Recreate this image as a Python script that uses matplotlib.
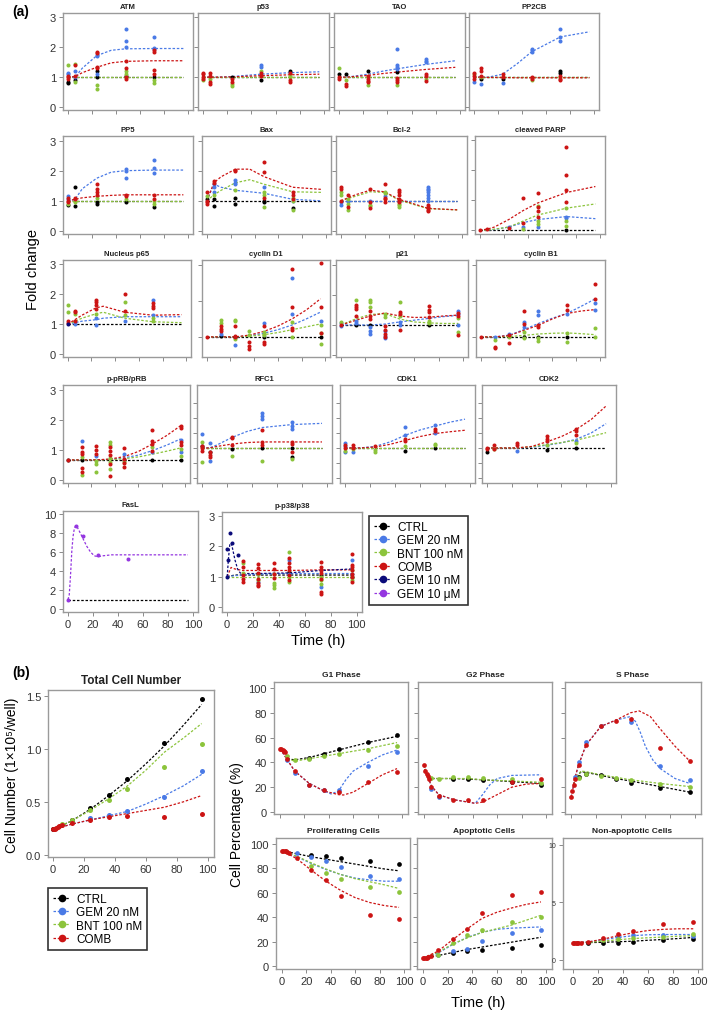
import matplotlib
matplotlib.use("Agg")
import matplotlib.pyplot as plt
from matplotlib.lines import Line2D

plt.rcParams["font.family"] = ["Liberation Sans", "DejaVu Sans"]

W, H = 709, 1012
COL = {"CTRL": "#000000", "GEM20": "#4a7ae6", "BNT": "#8cc43c", "COMB": "#cc1414",
       "GEM10n": "#0b0b7a", "GEM10u": "#9436e0"}
LABEL = {"CTRL": "CTRL", "GEM20": "GEM 20 nM", "BNT": "BNT 100 nM", "COMB": "COMB",
         "GEM10n": "GEM 10 nM", "GEM10u": "GEM 10 μM"}
DASH = (0, (2.0, 1.4))

# ---------------- (a) fold change data: {group: {time: [values]}} ----------------
T8 = [0, 6, 12, 24, 36, 48, 72, 96]
T9 = [0, 12, 24, 36, 48, 60, 72, 84, 96]

ATM_PTS = {
    "CTRL": {0: [0.85, 0.8], 6: [0.9], 24: [1.2, 1.0], 48: [1.05], 72: [1.0]},
    "GEM20": {0: [1.15, 1.1], 6: [1.2, 1.0], 24: [1.75, 1.7, 1.1], 48: [2.62, 2.22, 2.0], 72: [2.35, 1.98, 1.93]},
    "BNT": {0: [1.4], 6: [1.45, 0.85], 24: [0.75, 0.6], 48: [1.2, 1.1], 72: [0.9, 0.8]},
    "COMB": {0: [1.05, 1.0, 0.95], 6: [1.4, 1.05], 24: [1.85, 1.8, 1.35, 1.3], 48: [1.55, 1.3, 1.0, 0.95], 72: [1.9, 1.85, 1.25, 1.1]},
}
ATM_FIT = {"CTRL": [1, 1, 1, 1, 1, 1, 1, 1], "GEM20": [1.0, 1.0, 1.3, 1.72, 1.9, 1.95, 1.96, 1.96],
           "BNT": [1, 1, 1, 1, 1, 1, 1, 1], "COMB": [1.0, 1.02, 1.15, 1.33, 1.48, 1.53, 1.55, 1.55]}

P53_PTS = {
    "CTRL": {24: [1.0], 48: [0.9], 72: [1.2]},
    "GEM20": {48: [1.42, 1.35]},
    "BNT": {0: [0.9], 6: [0.95], 24: [0.78, 0.72], 48: [1.2], 72: [1.05, 1.0]},
    "COMB": {0: [1.15, 1.1, 1.0, 0.95], 6: [1.15, 1.05, 0.85, 0.78], 24: [0.95, 0.85], 48: [1.15, 1.05], 72: [1.15, 0.9, 0.85]},
}
P53_FIT = {"CTRL": [1, 1, 1, 1, 1, 1, 1, 1], "GEM20": [1, 1, 1, 1.02, 1.06, 1.1, 1.15, 1.18],
           "BNT": [1, 1, 1, 1, 1, 1, 1, 1], "COMB": [1, 1, 1, 1.01, 1.03, 1.05, 1.08, 1.1]}

TAO_PTS = {
    "CTRL": {0: [1.1], 6: [1.1], 24: [1.19], 48: [1.18]},
    "GEM20": {48: [1.94, 1.4, 1.35, 1.28], 72: [1.6, 1.55, 1.5]},
    "BNT": {0: [1.3], 6: [0.9], 24: [0.75], 48: [0.75], 72: [0.95]},
    "COMB": {0: [1.0, 0.95], 6: [0.78, 0.72], 24: [1.05, 0.95, 0.88, 0.85], 48: [0.98, 0.92, 0.85], 72: [1.1, 1.05, 0.88]},
}
TAO_FIT = {"CTRL": [1, 1, 1, 1, 1, 1, 1, 1], "GEM20": [1, 1, 1.03, 1.1, 1.2, 1.28, 1.43, 1.55],
           "BNT": [1, 1, 1, 1, 1, 1, 1, 1], "COMB": [1, 1, 1.02, 1.06, 1.12, 1.17, 1.26, 1.33]}

PP2CB_PTS = {
    "CTRL": {6: [0.95], 24: [0.95], 72: [1.2, 1.15]},
    "GEM20": {0: [0.83], 6: [0.77], 24: [0.82], 48: [1.95, 1.9, 1.85], 72: [2.6, 2.35, 2.2]},
    "BNT": {0: [1.1], 6: [1.0], 48: [0.9], 72: [1.0]},
    "COMB": {0: [1.15, 1.05, 0.95], 6: [1.3, 1.2, 1.05], 24: [1.1, 1.0], 48: [1.0, 0.95], 72: [1.05, 0.95, 0.9]},
}
PP2CB_FIT = {"CTRL": [1, 1, 1, 1, 1, 1, 1, 1], "GEM20": [1, 1, 1.0, 1.1, 1.45, 1.85, 2.35, 2.52],
             "BNT": [1, 1, 1, 1, 1, 1, 1, 1], "COMB": [1, 1, 0.99, 0.99, 0.98, 0.98, 0.98, 0.98]}

PP5_PTS = {
    "CTRL": {0: [0.85], 6: [1.45, 0.82], 24: [0.95, 0.9], 48: [0.95], 72: [0.78]},
    "GEM20": {0: [1.15, 1.05], 48: [2.05, 2.0, 1.75], 72: [2.35, 2.1, 1.92]},
    "BNT": {0: [0.9], 6: [0.95], 24: [1.1], 48: [1.05], 72: [1.0, 0.9]},
    "COMB": {0: [1.1, 1.0, 0.95], 6: [1.1, 1.05], 24: [1.55, 1.4, 1.3, 1.2], 48: [1.2, 1.15], 72: [1.2, 1.05]},
}
PP5_FIT = {"CTRL": [1, 1, 1, 1, 1, 1, 1, 1], "GEM20": [1, 1.05, 1.4, 1.75, 1.95, 2.0, 2.02, 2.02],
           "BNT": [1, 1, 1, 1, 1, 1, 1, 1], "COMB": [1, 1.05, 1.1, 1.15, 1.18, 1.2, 1.2, 1.2]}

BAX_PTS = {
    "CTRL": {0: [1.05], 6: [1.05, 0.82], 24: [1.1, 0.9], 48: [1.0, 0.95], 72: [0.75]},
    "GEM20": {6: [1.55, 1.45, 1.3], 24: [1.7, 1.6, 1.55], 48: [1.45], 72: [1.0]},
    "BNT": {0: [1.15], 6: [1.2], 24: [1.35], 48: [1.3, 1.2, 0.8], 72: [1.1, 1.0, 0.7]},
    "COMB": {0: [1.3, 1.0, 0.95, 0.9], 6: [1.65, 1.6], 24: [2.02, 2.0], 48: [2.3, 1.95, 1.1], 72: [1.3, 1.2, 1.05]},
}
BAX_FIT = {"CTRL": [1, 1, 1, 1, 1, 1, 1, 1], "GEM20": [1.0, 1.55, 1.45, 1.35, 1.3, 1.25, 1.05, 1.0],
           "BNT": [1.0, 1.2, 1.35, 1.6, 1.7, 1.55, 1.3, 1.28], "COMB": [1.0, 1.6, 1.8, 2.05, 2.05, 1.8, 1.45, 1.38]}

BCL2_PTS = {
    "GEM20": {0: [0.95, 0.85], 6: [1.0], 24: [1.0], 36: [1.15], 72: [1.45, 1.4, 1.35, 1.3, 1.2, 1.1, 1.0]},
    "BNT": {0: [1.3, 1.2], 6: [1.05, 0.9, 0.7], 24: [0.85, 0.82], 36: [1.3, 1.25], 48: [0.9, 0.85, 0.8]},
    "COMB": {0: [1.45, 1.4, 1.0], 6: [1.2, 0.8], 24: [1.38, 0.95, 0.75], 36: [1.57, 1.1, 1.05, 0.95],
             48: [1.35, 1.3, 1.2, 1.05, 1.0, 0.95], 72: [0.85, 0.8, 0.75, 0.7, 0.65]},
}
BCL2_FIT = {"CTRL": [1, 1, 1, 1, 1, 1, 1, 1], "GEM20": [1, 1, 1, 1, 1, 1, 1, 1],
            "BNT": [1.0, 1.08, 1.15, 1.3, 1.28, 1.02, 0.74, 0.7], "COMB": [1.0, 1.1, 1.2, 1.35, 1.3, 1.05, 0.75, 0.7]}

PARP_PTS = {
    "CTRL": {72: [1.0]},
    "GEM20": {24: [1.1], 36: [1.1], 48: [1.1], 72: [1.45, 1.4]},
    "BNT": {36: [1.05], 48: [1.8, 1.3, 1.2], 72: [1.73, 1.3, 1.15]},
    "COMB": {0: [1.0], 6: [1.05], 24: [1.07], 36: [2.07, 1.23], 48: [2.23, 1.77, 1.65, 1.45], 72: [3.77, 2.83, 2.33, 1.93]},
}
PARP_FIT = {"CTRL": [1, 1, 1, 1, 1, 1, 1, 1], "GEM20": [1, 1, 1.02, 1.1, 1.25, 1.35, 1.45, 1.38],
            "BNT": [1, 1, 1.03, 1.1, 1.3, 1.5, 1.73, 1.87], "COMB": [1.0, 1.03, 1.1, 1.35, 1.65, 1.9, 2.25, 2.45]}

P65_T = [0, 6, 12, 24, 30, 48, 72, 96]
P65_PTS = {
    "GEM20": {6: [1.0], 24: [1.2, 0.97], 48: [1.1], 72: [1.8, 1.3]},
    "BNT": {0: [1.65, 1.4], 6: [1.35], 24: [1.35], 48: [1.75, 1.3], 72: [1.2, 1.1]},
    "COMB": {0: [1.1, 1.05], 6: [1.45, 1.4, 1.1], 24: [1.8, 1.75, 1.65, 1.5], 48: [2.0, 1.45], 72: [1.7, 1.6, 1.55]},
    "GEM10n": {0: [1.0]},
}
P65_FIT = {"CTRL": [1, 1, 1, 1, 1, 1, 1, 1], "GEM20": [1.0, 1.05, 1.1, 1.15, 1.2, 1.25, 1.25, 1.25],
           "BNT": [1.0, 1.1, 1.2, 1.35, 1.4, 1.2, 1.08, 1.05], "COMB": [1.0, 1.15, 1.3, 1.55, 1.6, 1.4, 1.3, 1.32]}

CYCD1_PTS = {
    "CTRL": {12: [1.02], 24: [1.0], 48: [1.0], 96: [1.0]},
    "GEM20": {12: [1.08], 24: [0.78], 48: [1.38], 72: [2.63, 1.64], 96: [1.44]},
    "BNT": {12: [1.48, 1.39], 24: [1.48, 1.45, 0.95], 36: [1.15, 1.05], 48: [1.13, 1.05], 72: [1.41, 1.0], 96: [1.33, 1.1, 0.8]},
    "COMB": {0: [1.0], 12: [1.3, 1.22, 1.15], 24: [1.3, 1.03, 0.99], 36: [0.85, 0.76, 0.67], 48: [1.29, 0.87, 0.79],
             72: [2.9, 1.84, 1.24, 1.2], 96: [3.06, 1.82, 1.1]},
}
CYCD1_FIT = {"CTRL": [1, 1, 1, 1, 1, 1, 1, 1, 1], "GEM20": [1, 1, 1, 1.03, 1.1, 1.2, 1.33, 1.5, 1.69],
             "BNT": [1, 1, 1, 1.02, 1.06, 1.12, 1.2, 1.28, 1.36], "COMB": [1, 1, 1, 1.05, 1.15, 1.3, 1.5, 1.75, 2.06]}

P21_PTS = {
    "CTRL": {12: [1.0], 24: [1.0], 72: [1.0]},
    "GEM20": {0: [1.05, 0.95], 12: [1.14, 1.07], 24: [0.92, 0.81, 0.7], 36: [0.81, 0.64, 0.57], 48: [1.11, 1.0], 96: [1.46, 1.37, 1.0]},
    "BNT": {0: [1.1], 12: [1.84], 24: [1.84, 1.76, 1.59], 36: [1.37, 1.26], 48: [1.78, 1.29], 72: [1.14, 1.07], 96: [1.22, 0.78]},
    "COMB": {0: [1.0], 12: [1.67, 1.59, 1.53, 1.29], 24: [1.46, 1.29, 1.2], 36: [0.98, 0.84, 0.7, 0.59], 48: [1.44, 1.37, 0.83],
             72: [1.64, 1.51, 1.42, 1.26], 96: [1.4, 1.31, 0.67]},
}
P21_FIT = {"CTRL": [1, 1, 1, 1, 1, 1, 1, 1, 1], "GEM20": [1.0, 1.0, 1.0, 1.03, 1.1, 1.16, 1.22, 1.28, 1.32],
           "BNT": [1.0, 1.2, 1.35, 1.38, 1.2, 1.1, 1.07, 1.05, 1.05], "COMB": [1.0, 1.15, 1.3, 1.4, 1.3, 1.25, 1.26, 1.3, 1.33]}

CYCB1_PTS = {
    "CTRL": {36: [1.0], 48: [1.0], 72: [1.0]},
    "GEM20": {12: [1.0], 24: [1.09], 36: [1.42, 1.28], 48: [1.71, 1.6], 72: [1.65], 96: [1.94, 1.76]},
    "BNT": {12: [0.91], 24: [1.0], 36: [1.14, 0.97], 48: [0.97, 0.88], 72: [1.11, 0.86], 96: [1.25, 1.0]},
    "COMB": {0: [1.0], 12: [0.72, 0.68], 24: [1.05, 0.84], 36: [1.73, 1.37], 48: [1.32, 1.28], 72: [1.88, 1.74], 96: [2.46, 2.05]},
}
CYCB1_FIT = {"CTRL": [1, 1, 1, 1, 1, 1, 1, 1, 1], "GEM20": [1, 1, 1.05, 1.2, 1.37, 1.52, 1.65, 1.85, 2.06],
             "BNT": [1, 1, 1.01, 1.04, 1.08, 1.1, 1.11, 1.09, 1.06], "COMB": [1, 1, 1.04, 1.18, 1.32, 1.5, 1.65, 1.72, 1.76]}

PRB_PTS = {
    "CTRL": {0: [0.67], 12: [0.67], 48: [0.67], 72: [0.67], 96: [0.67]},
    "GEM20": {12: [1.29], 24: [0.81], 48: [0.87], 72: [0.92], 96: [1.34, 0.92]},
    "BNT": {12: [0.76, 0.17], 24: [0.64, 0.53, 0.26], 36: [1.26, 1.17, 0.72, 0.61, 0.37], 48: [0.6], 72: [1.09], 96: [1.03, 0.81]},
    "COMB": {0: [0.67], 12: [1.09, 0.94, 0.87, 0.39, 0.28], 24: [1.14, 1.01, 0.87], 36: [1.09, 0.98, 0.83, 0.53, 0.12],
             48: [1.07, 0.7, 0.57, 0.42], 72: [1.68, 1.31, 1.2, 0.98], 96: [1.81, 1.72, 1.26, 1.17]},
}
PRB_FIT = {"CTRL": [0.67] * 9, "GEM20": [0.67, 0.67, 0.67, 0.69, 0.74, 0.83, 0.98, 1.16, 1.37],
           "BNT": [0.67, 0.67, 0.67, 0.68, 0.71, 0.77, 0.86, 0.96, 1.07],
           "COMB": [0.67, 0.67, 0.67, 0.7, 0.78, 0.95, 1.2, 1.48, 1.81]}

RFC1_PTS = {
    "CTRL": {0: [1.08], 6: [0.88], 24: [0.97], 48: [0.99], 72: [0.99, 0.71]},
    "GEM20": {0: [1.47], 6: [1.16, 0.58], 48: [2.16, 2.08, 1.97], 72: [1.88, 1.72, 1.63]},
    "BNT": {0: [1.19, 0.54], 24: [0.74], 48: [0.58], 72: [0.63]},
    "COMB": {0: [1.08, 0.99, 0.91], 6: [0.86, 0.77, 0.69], 24: [1.38, 1.32, 1.1], 48: [1.6, 1.19, 1.1], 72: [1.21, 1.13, 0.86]},
}
RFC1_FIT = {"CTRL": [1, 1, 1, 1, 1, 1, 1, 1], "GEM20": [1, 1, 1.1, 1.35, 1.55, 1.68, 1.78, 1.82],
            "BNT": [1, 1, 1, 1, 1, 1, 1, 1], "COMB": [1, 1, 1.05, 1.13, 1.18, 1.2, 1.2, 1.2]}

CDK1_PTS = {
    "CTRL": {48: [0.9], 72: [1.0]},
    "GEM20": {0: [1.15, 1.05, 0.85], 6: [0.87], 48: [1.7, 1.44], 72: [1.76, 1.5]},
    "BNT": {0: [0.9], 6: [0.95], 24: [0.92, 0.87], 48: [1.06], 72: [1.14, 1.09]},
    "COMB": {0: [1.1, 1.0], 6: [1.09, 1.0], 24: [1.07], 48: [1.29, 1.22], 72: [1.64, 1.57]},
}
CDK1_FIT = {"CTRL": [1] * 9, "GEM20": [1, 1.0, 1.05, 1.2, 1.42, 1.6, 1.73, 1.86, 1.96],
            "BNT": [1] * 9, "COMB": [1, 1, 1.03, 1.12, 1.25, 1.38, 1.48, 1.54, 1.59]}

CDK2_PTS = {
    "CTRL": {0: [0.87], 48: [0.94], 72: [1.0]},
    "GEM20": {24: [0.89], 48: [1.11], 72: [1.23]},
    "BNT": {6: [0.98], 48: [1.11], 72: [1.18]},
    "COMB": {0: [1.0, 0.95], 6: [1.09, 0.98], 24: [1.18, 1.09], 48: [1.39, 1.31, 1.22], 72: [1.64, 1.57, 1.44]},
}
CDK2_FIT = {"CTRL": [1] * 9, "GEM20": [1, 1, 1, 1.02, 1.09, 1.17, 1.29, 1.5, 1.81],
            "BNT": [1, 1, 1, 1.04, 1.11, 1.18, 1.26, 1.38, 1.51], "COMB": [1, 1, 1, 1.05, 1.2, 1.38, 1.62, 1.95, 2.4]}

FASL_PTS = {"GEM10u": {0: [1.0], 6: [8.7], 12: [7.7], 24: [5.7], 48: [5.3]}}
FASL_FIT = {"CTRL": ([0, 96], [1.0, 1.0]),
            "GEM10u": ([0, 1, 2, 3, 4, 5, 6, 7, 9, 12, 15, 18, 21, 24, 28, 35, 96],
                       [1.0, 1.5, 3.5, 6.0, 7.6, 8.4, 8.75, 8.7, 8.2, 7.4, 6.6, 6.0, 5.6, 5.5, 5.6, 5.7, 5.7])}

P38_PTS = {
    "CTRL": {24: [1.1], 48: [1.15], 72: [1.05], 96: [1.0]},
    "GEM20": {24: [0.83], 48: [1.56, 1.1], 72: [0.64, 1.2], 96: [1.56, 1.1]},
    "BNT": {12: [1.44, 1.11], 24: [1.08, 0.9], 36: [1.1, 0.8, 0.71, 0.63], 48: [1.8, 1.0, 0.82], 72: [1.0, 0.9, 0.74], 96: [1.2, 1.0, 0.9]},
    "COMB": {12: [1.5, 1.33, 1.04, 0.91, 0.82], 24: [1.42, 1.28, 1.11, 0.91, 0.8, 0.71, 0.69], 36: [1.44, 1.24, 1.08, 0.95],
             48: [1.61, 1.44, 1.33, 1.2, 1.05, 0.9], 72: [1.47, 1.3, 1.22, 1.11, 0.93, 0.49, 0.44],
             96: [1.76, 1.39, 1.3, 1.22, 1.08, 0.97, 0.82]},
    "GEM10n": {0: [1.0, 1.92], 1: [1.55], 2: [2.45], 4: [2.1], 8: [1.7]},
}
P38_FIT = {"CTRL": ([0, 6, 12, 24, 48, 72, 96], [1.0, 1.05, 1.05, 1.05, 1.05, 1.05, 1.05]),
           "GEM20": ([0, 6, 12, 24, 48, 72, 96], [1.0, 1.03, 1.05, 1.08, 1.1, 1.1, 1.1]),
           "BNT": ([0, 96], [1.0, 1.0]),
           "COMB": ([0, 3, 6, 12, 24, 48, 72, 96], [1.0, 1.3, 1.25, 1.2, 1.2, 1.2, 1.22, 1.22]),
           "GEM10n": ([0, 1, 2, 3, 4, 6, 8, 10, 12, 24, 48, 72, 96],
                      [1.0, 1.6, 2.05, 2.1, 1.95, 1.55, 1.25, 1.12, 1.1, 1.1, 1.12, 1.2, 1.25])}

# ---------------- (b) cell counts / cell cycle: {group: ([t], [v])} ----------------
TCN_PTS = {
    "CTRL": ([0, 12, 24, 36, 48, 72, 96], [0.24, 0.33, 0.44, 0.57, 0.72, 1.06, 1.47]),
    "GEM20": ([24, 36, 48, 72, 96], [0.35, 0.38, 0.41, 0.55, 0.79]),
    "BNT": ([6, 12, 24, 36, 48, 72, 96], [0.29, 0.33, 0.42, 0.52, 0.62, 0.83, 1.05]),
    "COMB": ([0, 1, 2, 3, 4, 6, 12, 24, 36, 48, 72, 96], [0.24, 0.245, 0.25, 0.26, 0.27, 0.285, 0.3, 0.33, 0.355, 0.365, 0.36, 0.39]),
}
TCN_FIT = {"CTRL": [0.24, 0.32, 0.43, 0.56, 0.7, 0.86, 1.03, 1.22, 1.42],
           "GEM20": [0.24, 0.29, 0.33, 0.37, 0.41, 0.48, 0.56, 0.65, 0.76],
           "BNT": [0.24, 0.32, 0.42, 0.53, 0.65, 0.8, 0.97, 1.1, 1.24],
           "COMB": [0.24, 0.29, 0.33, 0.36, 0.39, 0.42, 0.45, 0.5, 0.56]}

G1_PTS = {
    "CTRL": ([24, 36, 48, 72, 96], [43.6, 46.8, 50.4, 56.7, 61.9]),
    "GEM20": ([6, 12, 24, 36, 48, 72, 96], [42, 31.8, 21.6, 17.5, 18, 36.7, 48.2]),
    "BNT": ([6, 12, 24, 36, 48, 72, 96], [45.5, 42.2, 43, 45, 47, 50, 53]),
    "COMB": ([0, 1, 2, 3, 4, 6, 12, 24, 36, 48, 72, 96], [51, 50.5, 50, 49, 48, 43, 33, 21.6, 17.5, 16.2, 24.4, 32.3]),
}
G1_FIT = {"CTRL": ([6, 12, 24, 36, 48, 72, 96], [43, 42, 44, 47, 50, 56, 61]),
          "GEM20": ([0, 6, 12, 24, 36, 42, 48, 54, 60, 72, 84, 96], [51, 42, 33, 23, 17, 14.5, 17, 26, 33, 40, 46, 50]),
          "BNT": ([6, 12, 24, 36, 48, 72, 96], [43, 41, 43, 45, 47, 51, 56]),
          "COMB": ([0, 6, 12, 24, 36, 48, 52, 60, 72, 84, 96], [51, 42, 33, 23, 17, 14, 13.7, 16, 23, 30, 35])}

G2_PTS = {
    "CTRL": ([24, 36, 48, 72, 96], [27, 27, 26, 24, 22]),
    "GEM20": ([6, 12], [18.6, 11.8]),
    "BNT": ([6, 12, 24, 36, 48, 72, 96], [27.7, 27, 28.5, 28, 27.5, 26.5, 23]),
    "COMB": ([0, 1, 2, 3, 4, 6, 12, 24, 36, 48, 72, 96], [38, 33, 31, 29, 27, 20, 13, 10, 10, 10, 24, 27]),
}
G2_FIT = {"CTRL": ([0, 2, 4, 6, 12, 24, 36, 48, 72, 96], [38, 31, 28, 27, 27, 27, 26.5, 26, 24.5, 23]),
          "GEM20": ([0, 1, 2, 4, 6, 12, 24, 36, 42, 48, 54, 60, 72, 96], [38, 33, 30, 26, 21, 14, 10, 8, 7, 14, 22, 27, 29.5, 30]),
          "BNT": ([0, 2, 4, 6, 12, 24, 36, 48, 72, 96], [38, 31, 28, 27, 27, 27, 27, 26, 25, 24]),
          "COMB": ([0, 1, 2, 4, 6, 12, 24, 36, 42, 48, 60, 72, 84, 96], [38, 33, 30, 26, 21, 14, 10, 8, 7, 8, 14, 20, 22.5, 23])}

S_PTS = {
    "CTRL": ([6, 12, 24, 36, 48, 72, 96], [28.2, 31, 29.6, 26.8, 23.6, 19.5, 16.2]),
    "GEM20": ([3, 6, 12, 24, 48, 72, 96], [28, 40, 56.4, 69, 72.9, 37.3, 25.5]),
    "BNT": ([6, 12, 24, 36, 48, 72, 96], [27.7, 31, 29, 27.7, 25.5, 22.7, 20.5]),
    "COMB": ([0, 1, 2, 3, 6, 12, 24, 36, 48, 72, 96], [12, 17, 22, 27, 38, 54, 69, 73, 75, 52, 41]),
}
S_FIT = {"CTRL": ([2, 4, 8, 12, 24, 36, 48, 72, 96], [22, 28, 32.5, 32, 29.5, 27, 25, 20.5, 16]),
         "GEM20": ([0, 1, 2, 3, 4, 6, 12, 24, 36, 48, 52, 56, 60, 66, 72, 84, 96],
                   [12, 17, 22, 27, 31, 38, 54, 69, 74, 77, 73, 64, 53, 42, 35, 27, 23]),
         "BNT": ([2, 4, 8, 12, 24, 36, 48, 72, 96], [22, 28, 33, 32.5, 30, 28, 26, 23, 20.5]),
         "COMB": ([0, 1, 2, 3, 4, 6, 12, 24, 36, 48, 55, 64, 72, 84, 96],
                  [12, 17, 22, 27, 31, 38, 54, 69, 74, 80, 81.5, 77, 67, 53, 41])}

PROL_PTS = {
    "CTRL": ([24, 36, 48, 72, 96], [91, 90, 88.6, 86.4, 83.7]),
    "GEM20": ([12, 24, 36, 48, 72, 96], [92.4, 89.1, 86.4, 80.9, 74.1, 71.4]),
    "BNT": ([24, 36, 48, 72, 96], [81.7, 76, 71.4, 65.1, 60.5]),
    "COMB": ([0, 1, 2, 3, 4, 6, 12, 24, 36, 48, 72, 96], [94.5, 94.5, 94.3, 94, 93.8, 93, 88.6, 78.7, 70.8, 57.2, 41.4, 38.7]),
}
PROL_FIT = {"CTRL": [94.5, 92, 89.5, 87.5, 85.5, 83.5, 81.5, 79.5, 78],
            "GEM20": [94.5, 89.5, 84, 79, 75, 72, 70.5, 69.5, 69.5],
            "BNT": [94.5, 90, 84.5, 79.5, 75, 71.5, 69, 66.5, 63.5],
            "COMB": [94.5, 88, 78.5, 69.5, 62, 56, 52, 49.5, 48]}

APOP_PTS = {
    "CTRL": ([24, 36, 48, 72, 96], [10.6, 12, 12.8, 15, 17.4]),
    "GEM20": ([12, 24, 36, 48, 72, 96], [8.7, 12, 14.2, 20.2, 27, 29.7]),
    "BNT": ([12, 24, 36, 48, 72, 96], [9.3, 19, 25.6, 29.7, 36, 40.3]),
    "COMB": ([0, 1, 2, 3, 4, 6, 12, 24, 36, 48, 72, 96], [6.5, 6.5, 6.6, 6.8, 7, 8.2, 12.8, 22.3, 30, 43.6, 58.3, 61]),
}
APOP_FIT = {"CTRL": [6.5, 8.5, 11, 13.5, 15.5, 17.5, 19.5, 21.5, 23.5],
            "GEM20": [6.5, 10.5, 17.5, 23.5, 27.5, 30, 31, 31.5, 32],
            "BNT": [6.5, 11, 18, 23, 27.5, 30.5, 33.5, 37.5, 41.5],
            "COMB": [6.5, 12, 21.5, 30.5, 39, 44, 47.5, 50.5, 52.5]}

NONAP_PTS = {
    "CTRL": ([12, 24, 36, 48, 72, 96], [1.45, 1.45, 1.45, 1.56, 1.7, 1.84]),
    "GEM20": ([24, 36, 48, 72, 96], [1.78, 1.97, 2.14, 2.14, 2.05]),
    "BNT": ([24, 36, 48, 72, 96], [1.7, 1.78, 1.86, 1.97, 2.27]),
    "COMB": ([0, 1, 2, 3, 4, 6, 12, 24, 36, 48, 72, 96], [1.45, 1.45, 1.45, 1.45, 1.45, 1.47, 1.56, 1.92, 2.25, 2.55, 3.1, 3.3]),
}
NONAP_FIT = {"CTRL": [1.5, 1.5, 1.52, 1.57, 1.62, 1.7, 1.77, 1.85, 1.95],
             "GEM20": [1.5, 1.55, 1.75, 1.95, 2.1, 2.18, 2.2, 2.2, 2.2],
             "BNT": [1.5, 1.52, 1.62, 1.75, 1.85, 1.92, 1.98, 2.05, 2.1],
             "COMB": [1.5, 1.55, 1.8, 2.1, 2.35, 2.55, 2.65, 2.7, 2.7]}

ORDER = ["CTRL", "GEM20", "BNT", "COMB", "GEM10n", "GEM10u"]

fig = plt.figure(figsize=(W / 100, H / 100), dpi=100)


def add_box(l, t, r, b):
    return fig.add_axes([l / W, 1 - b / H, (r - l) / W, (b - t) / H])


def style(ax, xlab, ylab, fs=8):
    for s in ax.spines.values():
        s.set_color("#9a9a9a")
        s.set_linewidth(1.0)
    ax.tick_params(direction="out", length=3, width=0.7, color="#8a8a8a",
                   labelsize=fs, labelcolor="#333333", pad=2)
    if not xlab:
        ax.tick_params(labelbottom=False)
    if not ylab:
        ax.tick_params(labelleft=False)


def draw(ax, pts, fit_t, fits, ms):
    for g in ORDER:
        if g in fits:
            f = fits[g]
            t, v = f if isinstance(f, tuple) else (fit_t, f)
            ax.plot(t, v, color=COL[g], ls=DASH, lw=0.9, zorder=2)
    for g in ORDER:
        if g not in pts:
            continue
        p = pts[g]
        if isinstance(p, dict):
            xs = [t for t, vals in p.items() for _ in vals]
            ys = [v for vals in p.values() for v in vals]
        else:
            xs, ys = p
        ax.plot(xs, ys, "o", color=COL[g], ms=ms, mec="none", zorder=3)


STD = ((-0.1, 3.15), [0, 1, 2, 3])
A_PANELS = [
    ("ATM", (63, 14, 193, 111), ATM_PTS, T8, ATM_FIT, STD, True, False),
    ("p53", (198, 14, 329, 111), P53_PTS, T8, P53_FIT, STD, False, False),
    ("TAO", (334, 14, 465, 111), TAO_PTS, T8, TAO_FIT, STD, False, False),
    ("PP2CB", (469, 14, 599, 111), PP2CB_PTS, T8, PP2CB_FIT, STD, False, False),
    ("PP5", (63, 137, 193, 235), PP5_PTS, T8, PP5_FIT, STD, True, False),
    ("Bax", (202, 137, 331, 235), BAX_PTS, T8, BAX_FIT, STD, False, False),
    ("Bcl-2", (336, 137, 467, 235), BCL2_PTS, T8, BCL2_FIT, STD, False, False),
    ("cleaved PARP", (475, 137, 605, 235), PARP_PTS, T8, PARP_FIT, ((0.87, 4.13), [1, 2, 3, 4]), False, False),
    ("Nucleus p65", (63, 261, 191, 358), P65_PTS, P65_T, P65_FIT, STD, True, False),
    ("cyclin D1", (202, 261, 330, 358), CYCD1_PTS, T9, CYCD1_FIT, ((0.44, 3.14), [1, 2, 3]), False, False),
    ("p21", (336, 261, 468, 358), P21_PTS, T9, P21_FIT, ((-0.07, 3.17), [0, 1, 2, 3]), False, False),
    ("cyclin B1", (476, 261, 605, 358), CYCB1_PTS, T9, CYCB1_FIT, ((0.44, 3.14), [1, 2, 3]), False, False),
    ("p-pRB/pRB", (63, 386, 190, 484), PRB_PTS, T9, PRB_FIT, ((-0.1, 3.17), [0, 1, 2, 3]), True, False),
    ("RFC1", (197, 386, 332, 484), RFC1_PTS, T8, RFC1_FIT, ((-0.17, 3.1), [0, 0.5, 1, 1.5, 2, 2.5]), False, False),
    ("CDK1", (340, 386, 475, 484), CDK1_PTS, T9, CDK1_FIT, ((-0.17, 3.1), [0, 0.5, 1, 1.5, 2, 2.5]), False, False),
    ("CDK2", (482, 386, 616, 484), CDK2_PTS, T9, CDK2_FIT, ((-0.17, 3.1), [0, 0.5, 1, 1.5, 2, 2.5]), False, False),
    ("FasL", (63, 512, 198, 613), FASL_PTS, None, FASL_FIT, ((-0.3, 10.3), [0, 2, 4, 6, 8, 10]), True, True),
    ("p-p38/p38", (222, 513, 362, 613), P38_PTS, None, P38_FIT, ((-0.17, 3.13), [0, 1, 2, 3]), True, True),
]

for name, bx, pts, ft, fits, (ylim, yt), ylab, xlab in A_PANELS:
    ax = add_box(*bx)
    draw(ax, pts, ft, fits, ms=2.9)
    ax.set_xlim(-4, 104)
    ax.set_ylim(*ylim)
    ax.set_xticks([0, 20, 40, 60, 80, 100])
    ax.set_yticks(yt)
    style(ax, xlab, ylab)
    ax.set_title(name, fontsize=5.5, fontweight="bold", pad=3.5, color="#222222")

fig.text(12 / W, 1 - 12 / H, "(a)", fontsize=10, fontweight="bold", va="center")
fig.text(33 / W, 1 - 270 / H, "Fold change", fontsize=10.5, rotation=90, ha="center", va="center")
fig.text(318 / W, 1 - 641 / H, "Time (h)", fontsize=10.5, ha="center", va="center")


def handle(g, ms):
    return Line2D([], [], color=COL[g], ls=DASH, lw=0.9, marker="o", ms=ms, mec="none")


leg_a = fig.legend([handle(g, 5.5) for g in ORDER], [LABEL[g] for g in ORDER],
                   loc="upper left", bbox_to_anchor=(369 / W, 1 - 517 / H), fontsize=8.5,
                   frameon=True, fancybox=False, edgecolor="black", borderaxespad=0,
                   handlelength=1.5, handletextpad=0.5, labelspacing=0.12, borderpad=0.4)
leg_a.get_frame().set_linewidth(1.2)

# ---------------- (b) ----------------
fig.text(12 / W, 1 - 673 / H, "(b)", fontsize=10, fontweight="bold", va="center")

ax = add_box(48, 691, 214, 858)
draw(ax, TCN_PTS, T9, TCN_FIT, ms=3.6)
ax.set_xlim(-3.2, 104)
ax.set_ylim(-0.02, 1.557)
ax.set_xticks([0, 20, 40, 60, 80, 100])
ax.set_yticks([0.0, 0.5, 1.0, 1.5])
ax.set_yticklabels(["0.0", "0.5", "1.0", "1.5"])
style(ax, True, True)
ax.set_title("Total Cell Number", fontsize=8.5, fontweight="bold", pad=5, color="#222222")
fig.text(12 / W, 1 - 775 / H, "Cell Number (1×10⁵/well)", fontsize=10, rotation=90, ha="center", va="center")

B_PANELS = [
    ("G1 Phase", (274, 683, 408, 815), G1_PTS, None, G1_FIT, (-1.6, 104.8), [0, 20, 40, 60, 80, 100], True, False),
    ("G2 Phase", (418, 683, 552, 815), G2_PTS, None, G2_FIT, (-1.6, 104.8), [0, 20, 40, 60, 80, 100], False, False),
    ("S Phase", (565, 683, 701, 815), S_PTS, None, S_FIT, (-1.6, 104.8), [0, 20, 40, 60, 80, 100], False, False),
    ("Proliferating Cells", (276, 839, 410, 970), PROL_PTS, T9, PROL_FIT, (-2.5, 104.9), [0, 20, 40, 60, 80, 100], True, True),
    ("Apoptotic Cells", (417, 839, 552, 970), APOP_PTS, T9, APOP_FIT, (-2.5, 104.9), [0, 20, 40, 60, 80, 100], False, True),
    ("Non-apoptotic Cells", (563, 839, 702, 970), NONAP_PTS, T9, NONAP_FIT, (-0.8, 10.6), [0, 5, 10], True, True),
]
for name, bx, pts, ft, fits, ylim, yt, ylab, xlab in B_PANELS:
    ax = add_box(*bx)
    draw(ax, pts, ft, fits, ms=3.4)
    ax.set_xlim(-5, 105)
    ax.set_ylim(*ylim)
    ax.set_xticks([0, 20, 40, 60, 80, 100])
    ax.set_yticks(yt)
    style(ax, xlab, ylab)
    if name.startswith("Non"):
        ax.tick_params(axis="y", labelsize=5)
        ax.set_xlim(-8, 103)
    ax.set_title(name, fontsize=6, fontweight="bold", pad=4, color="#222222")

fig.text(237 / W, 1 - 825 / H, "Cell Percentage (%)", fontsize=10, rotation=90, ha="center", va="center")
fig.text(478 / W, 1 - 1003 / H, "Time (h)", fontsize=10.5, ha="center", va="center")

B4 = ["CTRL", "GEM20", "BNT", "COMB"]
leg_b = fig.legend([handle(g, 5.5) for g in B4], [LABEL[g] for g in B4],
                   loc="upper left", bbox_to_anchor=(48 / W, 1 - 889 / H), fontsize=8.5,
                   frameon=True, fancybox=False, edgecolor="black", borderaxespad=0,
                   handlelength=1.5, handletextpad=0.5, labelspacing=0.12, borderpad=0.4)
leg_b.get_frame().set_linewidth(1.2)

fig.savefig("out.png", dpi=100)
